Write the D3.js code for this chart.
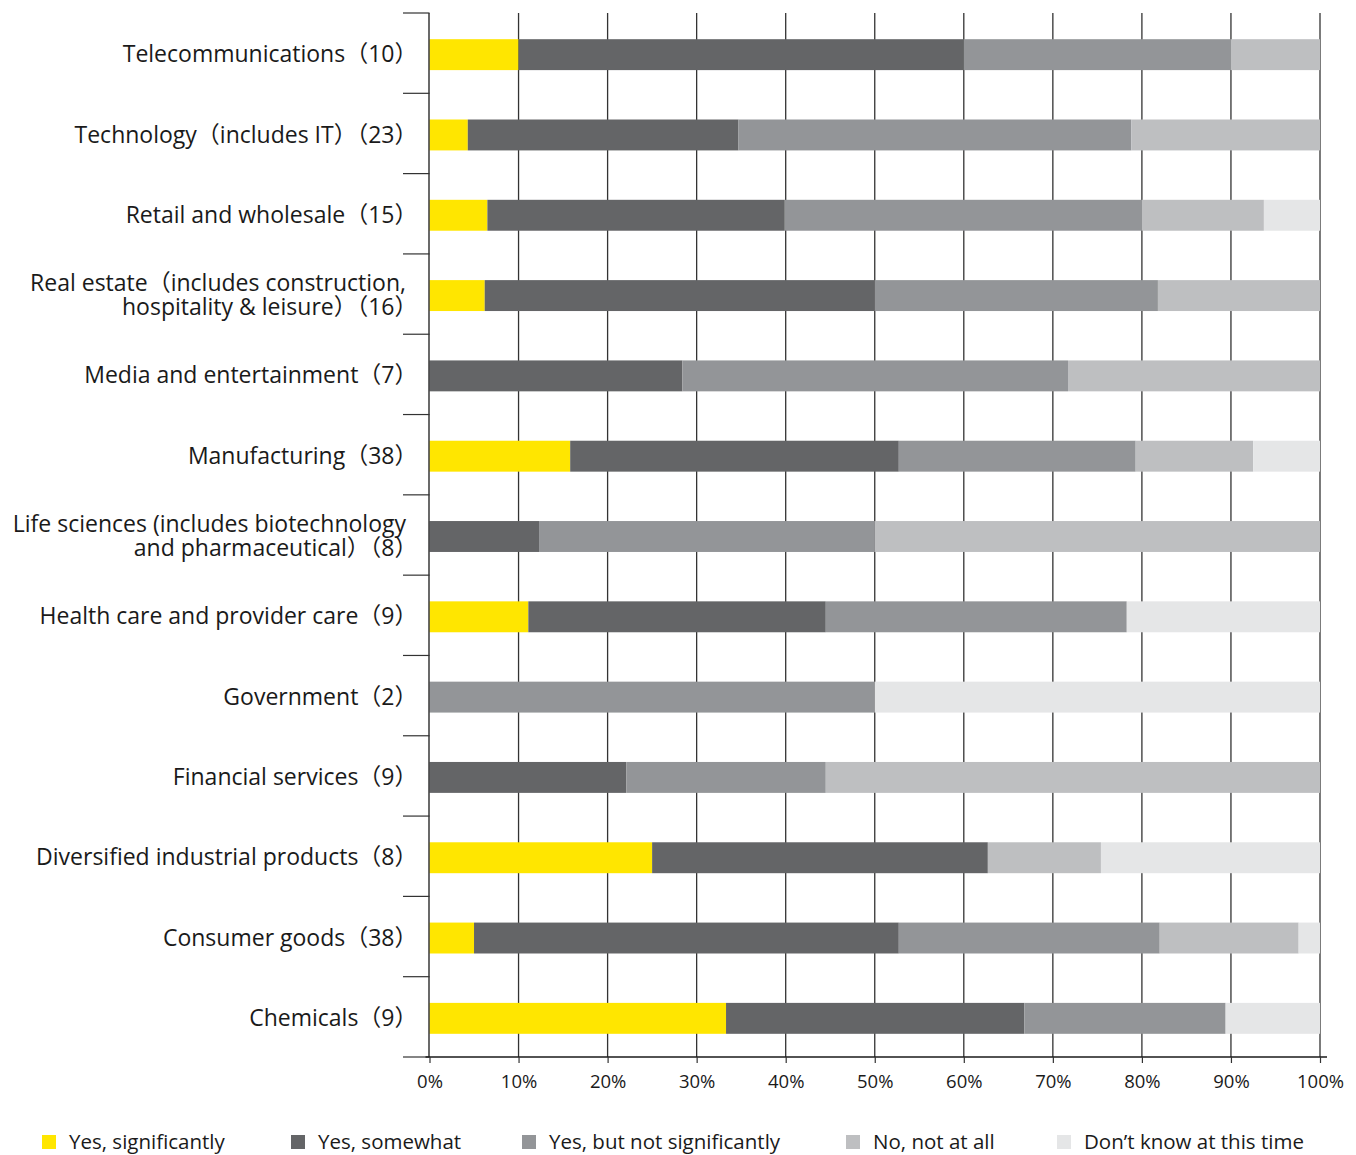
<!DOCTYPE html>
<html>
<head>
<meta charset="utf-8">
<script src="https://cdn.jsdelivr.net/npm/d3@7"></script>
<style>
  html, body { margin: 0; padding: 0; background: #fff; }
  svg { display: block; }
  text { font-family: "Open Sans", "Noto Sans CJK JP", sans-serif; fill: #1a1a1a; }
</style>
</head>
<body>
<svg id="chart" width="1356" height="1155"></svg>
<script>
// Industries, top to bottom; "\n" splits a label across two lines
const categories = [
  "Telecommunications（10）",
  "Technology（includes IT）（23）",
  "Retail and wholesale（15）",
  "Real estate（includes construction,\nhospitality & leisure）（16）",
  "Media and entertainment（7）",
  "Manufacturing（38）",
  "Life sciences (includes biotechnology\nand pharmaceutical）（8）",
  "Health care and provider care（9）",
  "Government（2）",
  "Financial services（9）",
  "Diversified industrial products（8）",
  "Consumer goods（38）",
  "Chemicals（9）"
];

const seriesNames = [
  "Yes, significantly",
  "Yes, somewhat",
  "Yes, but not significantly",
  "No, not at all",
  "Don’t know at this time"
];

// Share of respondents (%) per answer, same order as categories
const yesSignificantly    = [10, 4.3, 6.5, 6.2, 0, 15.8, 0, 11.1, 0, 0, 25, 5.0, 33.3];
const yesSomewhat         = [50, 30.4, 33.4, 43.8, 28.4, 36.9, 12.3, 33.4, 0, 22.1, 37.7, 47.7, 33.5];
const yesNotSignificantly = [30, 44.1, 40.1, 31.8, 43.3, 26.6, 37.7, 33.8, 50, 22.4, 0, 29.3, 22.6];
const noNotAtAll          = [10, 21.2, 13.7, 18.2, 28.3, 13.2, 50, 0, 0, 55.5, 12.7, 15.6, 0];
const dontKnow            = [0, 0, 6.3, 0, 0, 7.5, 0, 21.7, 50, 0, 24.6, 2.4, 10.6];

const xTicks = [0, 10, 20, 30, 40, 50, 60, 70, 80, 90, 100];
const colors = ["#FFE600", "#646567", "#939598", "#BEBFC1", "#E5E6E7"];

const seriesValues = [yesSignificantly, yesSomewhat, yesNotSignificantly, noNotAtAll, dontKnow];
const rows = categories.map((c, i) => {
  const r = { category: c };
  seriesNames.forEach((s, j) => { r[s] = seriesValues[j][i]; });
  return r;
});

const svg = d3.select("#chart");
const plotLeft = 429.5, plotRight = 1320, plotTop = 13, plotBottom = 1057;

const x = d3.scaleLinear().domain([0, 100]).range([plotLeft, plotRight]);
const y = d3.scaleBand().domain(categories).range([plotTop, plotBottom]).padding(0);
const barH = y.step() * 0.385;
const color = d3.scaleOrdinal().domain(seriesNames).range(colors);

// vertical gridlines
svg.append("g")
  .selectAll("line")
  .data(xTicks.slice(1))
  .join("line")
  .attr("x1", d => x(d)).attr("x2", d => x(d))
  .attr("y1", plotTop).attr("y2", plotBottom)
  .attr("stroke", "#333").attr("stroke-width", 1.3);

// stacked bars
const stacked = d3.stack().keys(seriesNames)(rows);
svg.append("g")
  .selectAll("g")
  .data(stacked)
  .join("g")
  .attr("fill", d => color(d.key))
  .selectAll("rect")
  .data(d => d)
  .join("rect")
  .attr("x", d => x(d[0]))
  .attr("width", d => Math.max(0, x(d[1]) - x(d[0])))
  .attr("y", d => y(d.data.category) + (y.step() - barH) / 2 + 1.5)
  .attr("height", barH);

// left axis: vertical line plus ticks between categories
const bounds = categories.map(c => y(c)).concat([plotBottom]);
const yAxis = svg.append("g");
yAxis.append("line")
  .attr("x1", plotLeft - 0.5).attr("x2", plotLeft - 0.5)
  .attr("y1", plotTop).attr("y2", plotBottom)
  .attr("stroke", "#1a1a1a").attr("stroke-width", 1.3);
yAxis.selectAll("line.tick")
  .data(bounds)
  .join("line")
  .attr("class", "tick")
  .attr("x1", 403).attr("x2", plotLeft)
  .attr("y1", d => d).attr("y2", d => d)
  .attr("stroke", "#333").attr("stroke-width", 1.2);

// category labels, one text per line; a closing full-width bracket
// carries blank space on its right, so those lines anchor further out
const labelGroups = svg.append("g")
  .selectAll("g")
  .data(categories)
  .join("g");
labelGroups.each(function(c) {
  const lines = c.split("\n");
  const cy = y(c) + y.step() / 2 + 1;
  const lh = 24;
  const g = d3.select(this);
  lines.forEach((ln, i) => {
    g.append("text")
      .attr("text-anchor", "end")
      .attr("x", ln.endsWith("）") ? 417.5 : 406)
      .attr("y", cy + (i - (lines.length - 1) / 2) * lh)
      .attr("dy", "0.35em")
      .style("font-size", "23px")
      .text(ln);
  });
});

// bottom axis
const xAxis = d3.axisBottom(x)
  .tickValues(xTicks)
  .tickFormat(d => d + "%")
  .tickSize(6)
  .tickPadding(12);
const gx = svg.append("g")
  .attr("transform", `translate(0,${plotBottom})`)
  .call(xAxis);
gx.select(".domain").attr("d", `M${plotLeft - 4},0H${plotRight + 7}`).attr("stroke", "#1a1a1a").attr("stroke-width", 1.3);
gx.selectAll(".tick line").attr("stroke", "#333").attr("stroke-width", 1.2);
gx.selectAll(".tick text")
  .style("font-size", "18.5px")
  .style("font-family", "\"Open Sans\", sans-serif")
  .attr("fill", "#1a1a1a");

// legend
const legendX = [42, 291, 522, 846, 1057];
const legend = svg.append("g")
  .selectAll("g")
  .data(seriesNames)
  .join("g")
  .attr("transform", (d, i) => `translate(${legendX[i]},1135)`);
legend.append("rect")
  .attr("width", 14).attr("height", 14)
  .attr("fill", d => color(d));
legend.append("text")
  .attr("x", 27).attr("y", 7)
  .attr("dy", "0.36em")
  .style("font-size", "20.5px")
  .text(d => d);
</script>
</body>
</html>
